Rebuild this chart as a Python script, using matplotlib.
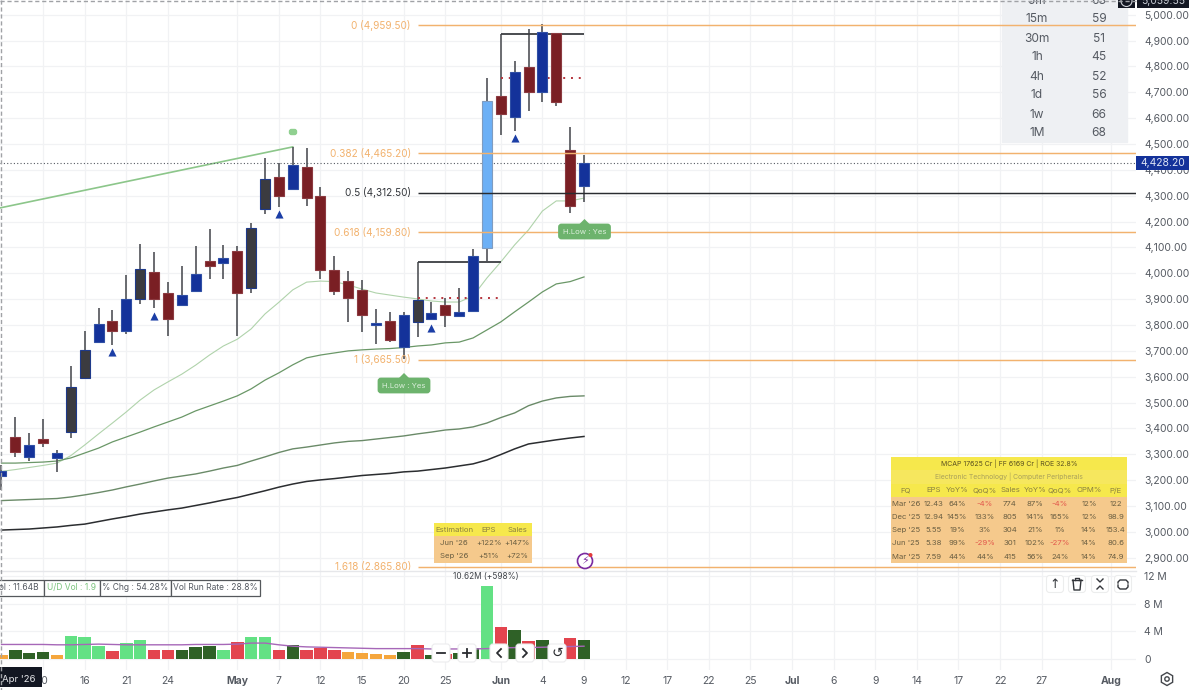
#!/usr/bin/env python3
"""Daily candlestick chart with fib levels, moving averages and volume pane."""

import matplotlib
matplotlib.use("Agg")
import matplotlib.pyplot as plt
from matplotlib.patches import Circle, FancyBboxPatch, Polygon, Rectangle, RegularPolygon

plt.rcParams["font.family"] = ["Inter", "DejaVu Sans"]

# ohlc per daily bar
opens = [3216, 3368, 3291, 3360, 3284, 3387, 3596, 3734, 3816, 3776, 3901, 4006, 3925, 3877, 3933,
         4049, 4041, 4087, 3943, 4248, 4374, 4326, 4410, 4300, 4014, 3970, 3934, 3802, 3817, 3714,
         3811, 3822, 3878, 3836, 3855, 4097, 4687, 4606, 4797, 4703, 4928, 4477, 4338]
highs = [3259, 3445, 3382, 3437, 3317, 3643, 3777, 3866, 3858, 3994, 4113, 4084, 3968, 4028, 4106,
         4171, 4110, 4107, 4196, 4447, 4426, 4490, 4486, 4335, 4068, 4010, 3974, 3861, 3852, 3849,
         3897, 3888, 3903, 3942, 4093, 4757, 4687, 4821, 4944, 4963, 4928, 4567, 4457]
lows = [3162, 3291, 3275, 3327, 3230, 3362, 3596, 3734, 3723, 3767, 3883, 3866, 3759, 3877, 3929,
        3978, 3979, 3759, 3925, 4229, 4258, 4326, 4262, 3979, 3916, 3813, 3774, 3727, 3733, 3667,
        3755, 3822, 3791, 3830, 3855, 4049, 4535, 4552, 4629, 4664, 4648, 4232, 4275]
closes = [3237, 3308, 3336, 3342, 3306, 3559, 3705, 3804, 3777, 3901, 4017, 3901, 3822, 3916, 3999,
          4028, 4060, 3924, 4174, 4365, 4300, 4418, 4293, 4013, 3930, 3906, 3839, 3806, 3742, 3839,
          3897, 3848, 3839, 3849, 4068, 4668, 4617, 4780, 4703, 4932, 4664, 4262, 4428.2]
candle_kind = ["up", "down", "up", "down", "up", "pivot", "pivot", "up", "down", "up", "pivot", "down",
               "down", "up", "up", "down", "up", "down", "pivot", "pivot", "down", "up", "down", "down",
               "down", "down", "down", "up", "down", "up", "pivot", "up", "down", "up", "up", "surge",
               "down", "up", "down", "up", "down", "down", "up"]

ma_fast = [3234, 3241, 3249, 3257, 3266, 3295, 3336, 3379, 3421, 3464, 3510, 3549, 3580, 3610, 3645,
           3684, 3719, 3745, 3785, 3843, 3888, 3936, 3966, 3970, 3968, 3955, 3939, 3924, 3916, 3908,
           3901, 3893, 3889, 3889, 3912, 3982, 4044, 4110, 4168, 4241, 4280, 4280, 4291]
ma_mid = [3266, 3266, 3268, 3270, 3274, 3286, 3305, 3324, 3348, 3367, 3386, 3406, 3425, 3444, 3468,
          3487, 3506, 3526, 3553, 3587, 3615, 3646, 3673, 3684, 3692, 3700, 3704, 3707, 3709, 3713,
          3719, 3723, 3731, 3734, 3750, 3781, 3812, 3851, 3889, 3928, 3959, 3968, 3986]
ma_slow = [3121, 3123, 3125, 3127, 3129, 3135, 3143, 3152, 3162, 3174, 3185, 3197, 3208, 3216, 3224,
           3235, 3247, 3257, 3274, 3290, 3307, 3321, 3328, 3336, 3344, 3350, 3353, 3359, 3365, 3371,
           3379, 3386, 3394, 3398, 3406, 3421, 3442, 3460, 3488, 3506, 3518, 3524, 3526]
ma_long = [3007, 3009, 3011, 3015, 3019, 3025, 3030, 3040, 3050, 3059, 3069, 3077, 3085, 3092, 3102,
           3112, 3123, 3133, 3146, 3159, 3173, 3185, 3195, 3201, 3206, 3212, 3218, 3222, 3226, 3232,
           3235, 3241, 3247, 3255, 3263, 3278, 3299, 3321, 3340, 3348, 3356, 3363, 3369]

volumes = [0.63, 1.26, 0.87, 1.0, 0.53, 3.3, 3.14, 1.93, 1.11, 2.3, 2.8, 1.26, 1.26, 1.3, 1.74,
           1.88, 1.35, 2.5, 3.14, 3.24, 1.35, 2.03, 1.35, 1.6, 1.35, 1.06, 0.82, 0.77, 0.53, 1.0,
           2.0, 0.62, 0.7, 0.87, 1.6, 10.62, 4.6, 4.2, 2.65, 2.75, 1.5, 3.1, 2.75]
volume_kind = ["low", "dn", "dn", "dn", "low", "up", "up", "up", "red", "up", "up", "red", "red", "dn",
               "dn", "dn", "up", "red", "up", "up", "red", "dn", "red", "red", "red", "low", "low",
               "low", "low", "dn", "red", "dn", "red", "dn", "dn", "up", "red", "dn", "red", "dn",
               "red", "red", "dn"]
volume_ma = [2.1, 2.1, 2.1, 2.1, 2.05, 2.05, 2.1, 2.15, 2.1, 2.05, 2.05, 2.05, 2.05, 2.05, 2.1,
             2.1, 2.1, 2.15, 2.3, 2.3, 2.05, 1.85, 1.75, 1.7, 1.65, 1.6, 1.55, 1.5, 1.5, 1.5,
             1.5, 1.45, 1.45, 1.45, 1.45, 1.5, 1.6, 1.65, 1.65, 1.7, 1.75, 1.8, 1.85]

fib_levels = [("0", 4959.5), ("0.382", 4465.2), ("0.5", 4312.5), ("0.618", 4159.8), ("1", 3665.5), ("1.618", 2865.8)]
trend_bars = [-0.11, 21]
trend_prices = [4253, 4489]
signal_bars = [8, 11, 20, 31, 37]
signal_prices = [3696, 3836, 4230, 3788, 4522]
base_bars = [(30, 36, 3897, 4042, 3905), (36, 42, 4687, 4925, 4757)]  # start, end, from, top, pivot

date_ticks = [3, 6, 9, 12, 17, 20, 23, 26, 29, 32, 36, 39, 42, 45, 48, 51, 54, 57, 60, 63, 66, 69, 72, 75, 80]
date_labels = ["10", "16", "21", "24", "May", "7", "12", "15", "20", "25", "Jun", "4", "9", "12", "17",
               "22", "25", "Jul", "6", "9", "14", "17", "22", "27", "Aug"]
price_ticks = list(range(2900, 5001, 100))
volume_ticks = [0, 4, 8, 12]

rsi_frames = ["5m", "15m", "30m", "1h", "4h", "1d", "1w", "1M"]
rsi_values = [63, 59, 51, 45, 52, 56, 66, 68]

fund_header = ["FQ", "EPS", "YoY%", "QoQ%", "Sales", "YoY%", "QoQ%", "OPM%", "P/E"]
fund_rows = [
    ["Mar '26", "12.43", "64%", "-4%", "774", "87%", "-4%", "12%", "122"],
    ["Dec '25", "12.94", "145%", "133%", "805", "141%", "165%", "12%", "98.9"],
    ["Sep '25", "5.55", "19%", "3%", "304", "21%", "1%", "14%", "153.4"],
    ["Jun '25", "5.38", "99%", "-29%", "301", "102%", "-27%", "14%", "80.6"],
    ["Mar '25", "7.59", "44%", "44%", "415", "56%", "24%", "14%", "74.9"],
]
est_header = ["Estimation", "EPS", "Sales"]
est_rows = [["Jun '26", "+122%", "+147%"], ["Sep '26", "+51%", "+72%"]]

BODY = {"up": "#14329a", "down": "#7a1f24", "pivot": "#3b3b40", "surge": "#6cb0f6"}
EDGE = {"up": "#2f4fa5", "down": "#8c3a40", "pivot": "#1f3a8a", "surge": "#7f9cc0"}
VOL = {"up": "#63e184", "dn": "#2f6127", "red": "#e3444e", "low": "#f5a63c"}
ORANGE = "#f2b26e"
TEXT = "#555a62"
GRID = "#f1f2f4"

fig = plt.figure(figsize=(12, 6.9), dpi=100)
price_ax = fig.add_axes([0, 120 / 690, 1136 / 1200, 570 / 690])
vol_ax = fig.add_axes([0, 20 / 690, 1136 / 1200, 100 / 690], sharex=price_ax)
ui = fig.add_axes([0, 0, 1, 1], zorder=10)
ui.set_xlim(0, 1200)
ui.set_ylim(690, 0)
ui.axis("off")
ui.patch.set_alpha(0)

bars = list(range(len(opens)))
xmin, xmax = -0.108, 81.8

# candles
for i in bars:
    top, bottom = max(opens[i], closes[i]), min(opens[i], closes[i])
    kind = candle_kind[i]
    price_ax.vlines(i, lows[i], highs[i], color="#505257", lw=1.2, zorder=3)
    price_ax.bar(i, top - bottom, bottom=bottom, width=0.72, color=BODY[kind], edgecolor=EDGE[kind], lw=0.8, zorder=4)

price_ax.plot(bars, ma_fast, color="#b0d3ab", lw=0.8, zorder=2)
price_ax.plot(bars, ma_mid, color="#6a9767", lw=0.9, zorder=2)
price_ax.plot(bars, ma_slow, color="#6a8a68", lw=1.0, zorder=2)
price_ax.plot(bars, ma_long, color="#2b2d30", lw=1.1, zorder=2)
price_ax.plot(trend_bars, trend_prices, color="#8cc68a", lw=1.2, zorder=2)
price_ax.scatter(signal_bars, signal_prices, marker="^", s=34, color="#1b3ea6", zorder=5, lw=0)

price_ax.axhline(closes[-1], color="#555a62", lw=0.8, ls=(0, (1, 2)), zorder=2)

# fib levels
for name, level in fib_levels:
    col = "#2a2c30" if name == "0.5" else ORANGE
    price_ax.hlines(level, 30, xmax, color=col, lw=1.05, zorder=5)
    lab = f"{name} ({level:,.2f})"
    price_ax.text(29.52, level, lab, ha="right", va="center", fontsize=7.2, color="#33363b" if name == "0.5" else ORANGE, zorder=6)

# base brackets
for start, end, low, top, pivot in base_bars:
    price_ax.vlines(start, low, top, color="#6a6c70", lw=1.4, zorder=3)
    price_ax.hlines(top, start, end, color="#3c3e42", lw=1.3, zorder=3)
    price_ax.hlines(pivot, start, end, color="#b5343c", lw=1.4, ls=(0, (1, 3)), zorder=3)

price_ax.set_xlim(xmin, xmax)
price_ax.set_ylim(2852.5, 5057.2)
price_ax.set_yticks(price_ticks)
price_ax.set_yticklabels([f"{p:,.2f}" for p in price_ticks])

# volume
vol_ax.bar(bars, volumes, width=0.9, color=[VOL[k] for k in volume_kind], zorder=3)
vol_ax.plot(bars, volume_ma, color="#a667b8", lw=1.0, zorder=4)
vol_ax.set_ylim(-1.59, 12.86)
vol_ax.set_yticks(volume_ticks)
vol_ax.set_yticklabels(["0", "4 M", "8 M", "12 M"])
vol_ax.set_xticks(date_ticks)
vol_ax.set_xticklabels(date_labels)
for lab in vol_ax.get_xticklabels():
    if lab.get_text() in ("May", "Jun", "Jul", "Aug"):
        lab.set_fontweight("bold")
        lab.set_color("#3a3d42")

for ax in (price_ax, vol_ax):
    ax.yaxis.tick_right()
    ax.tick_params(length=0, labelsize=7.5, labelcolor=TEXT, pad=6)
    ax.grid(True, color=GRID, lw=0.9)
    ax.set_axisbelow(True)
    for sp in ax.spines.values():
        sp.set_visible(False)
vol_ax.tick_params(axis="x", pad=4)
price_ax.tick_params(axis="x", labelbottom=False)
fig.add_artist(plt.Line2D([0, 1136 / 1200], [119 / 690, 119 / 690], color="#e6e7ea", lw=1))

# crosshair remains along the top and left edge
ui.plot([1, 1], [0, 690], color="#a0a2a6", lw=1, ls=(0, (3, 2)))
ui.plot([0, 1136], [0.5, 0.5], color="#a0a2a6", lw=1, ls=(0, (3, 2)))

# rsi box, under the fib lines
tr = ui.transData
price_ax.add_patch(Rectangle((1002, 0), 125, 142, color="#eef0f3", transform=tr, zorder=1, clip_on=False))
for n, (frame, val) in enumerate(zip(rsi_frames, rsi_values)):
    price_ax.text(1037, 0.5 + 19 * n, frame, ha="center", va="center", fontsize=8.6, color=TEXT, transform=tr, zorder=6)
    price_ax.text(1099, 0.5 + 19 * n, str(val), ha="center", va="center", fontsize=8.6, color=TEXT, transform=tr, zorder=6)


def grid_table(left, top, width, row_h, centers, rows, header_rows):
    """rows under the header are orange, the header rows yellow"""
    for r, row in enumerate(rows):
        y = top + r * row_h
        col = "#f6e84c" if r < header_rows else "#f5c98c"
        ui.add_patch(Rectangle((left, y), width, row_h, color=col, lw=0))
        for cx, val in zip(centers, row):
            tc = "#e2574c" if val.startswith("-") else ("#8a8040" if r < header_rows else "#6b5f42")
            ui.text(cx, y + row_h / 2, val, ha="center", va="center", fontsize=5.6, color=tc)


cols = [906, 934, 957, 985, 1010, 1035, 1060, 1089, 1116]
ui.add_patch(Rectangle((890.5, 457), 236.5, 13.3, color="#f6e84c", lw=0))
ui.text(1009, 463.6, "MCAP 17625 Cr | FF 6169 Cr | ROE 32.8%", ha="center", va="center", fontsize=5.0, color="#5c5220")
ui.add_patch(Rectangle((890.5, 470.3), 236.5, 13.3, color="#f6e75e", lw=0))
ui.text(1009, 477, "Electronic Technology | Computer Peripherals", ha="center", va="center", fontsize=4.9, color="#a9a05a")
grid_table(890.5, 483.6, 236.5, 13.3, cols, [fund_header] + fund_rows, 1)
grid_table(434, 523, 98, 13.3, [454, 489, 517], [est_header] + est_rows, 1)

# signal labels
for cx, top in [(404, 378), (584.5, 224)]:
    ui.add_patch(FancyBboxPatch((cx - 25, top + 1), 50, 13, boxstyle="round,pad=0,rounding_size=2", mutation_aspect=1,
                                fc="#6db36d", ec="#6db36d", lw=2))
    ui.add_patch(Polygon([(cx - 5, top), (cx + 5, top), (cx, top - 5)], color="#6db36d", lw=0))
    ui.text(cx, top + 7.5, "H.Low : Yes", ha="center", va="center", fontsize=5.6, color="#dcefdc")
ui.add_patch(FancyBboxPatch((289.5, 129.5), 7, 5, boxstyle="round,pad=0,rounding_size=2", fc="#90d090", ec="#90d090", lw=1))

# price badges
ui.add_patch(Rectangle((1136, 156), 53, 14, color="#14329a", lw=0))
ui.text(1162.5, 163, "4,428.20", ha="center", va="center", fontsize=7.5, color="#dfe5f5")
ui.add_patch(Rectangle((1137, 0), 52, 8, color="#131722", lw=0))
ui.text(1163, 0.5, "5,059.55", ha="center", va="center", fontsize=7.5, color="#c8ccd4", clip_on=True)
ui.add_patch(Rectangle((1118, 0), 17, 8, color="#131722", lw=0))
ui.add_patch(Circle((1126.5, 1), 5.5, fc="none", ec="#d0d3d8", lw=0.8))

# stats strip
stats = [(-12, 44, "Vol : 11.64B", "#555a62"), (44, 99.5, "U/D Vol : 1.9", "#7cc47f"),
         (99.5, 170.5, "% Chg : 54.28%", "#555a62"), (170.5, 260, "Vol Run Rate : 28.8%", "#555a62")]
for x0, x1, txt, col in stats:
    ui.add_patch(Rectangle((x0, 579.5), x1 - x0, 16, fc="white", ec="#55585c", lw=0.9))
    ui.text((x0 + x1) / 2, 587.5, txt, ha="center", va="center", fontsize=6.1, color=col)
ui.text(486, 577, "10.62M (+598%)", ha="center", va="center", fontsize=5.9, color="#40444a")

# flash icon
ui.add_patch(Circle((585, 561), 7.5, fc="white", ec="#7a2aa0", lw=1.2))
ui.text(585, 561.5, "\u26a1", ha="center", va="center", fontsize=8, color="#7a2aa0", family="DejaVu Sans")
ui.add_patch(Circle((590.5, 555), 2, color="#e23b3b", lw=0))


def button(cx, cy, size, edge):
    ui.add_patch(FancyBboxPatch((cx - size / 2, cy - size / 2), size, size, boxstyle="round,pad=0,rounding_size=3",
                                fc="white", ec=edge, lw=0.8))


for cx in [441, 467, 499, 525, 557]:
    button(cx, 653, 18, "#ececee")
ui.plot([437, 445], [653, 653], color="#2a2c30", lw=1.3)
ui.plot([463, 471], [653, 653], color="#2a2c30", lw=1.3)
ui.plot([467, 467], [649, 657], color="#2a2c30", lw=1.3)
ui.plot([501, 497, 501], [649, 653, 657], color="#2a2c30", lw=1.3)
ui.plot([523, 527, 523], [649, 653, 657], color="#2a2c30", lw=1.3)
ui.text(557, 653, "\u21ba", ha="center", va="center", fontsize=10, color="#2a2c30", family="DejaVu Sans")

for cx in [1055, 1077, 1100, 1123]:
    button(cx, 584, 17, "#eceded")
ui.text(1055, 584, "\u2191", ha="center", va="center", fontsize=9, color="#33363b", family="DejaVu Sans")
ui.plot([1073, 1074, 1080, 1081], [580, 590, 590, 580], color="#33363b", lw=1)
ui.plot([1072, 1082], [580, 580], color="#33363b", lw=1)
ui.plot([1075, 1075, 1079, 1079], [580, 578, 578, 580], color="#33363b", lw=1)
ui.plot([1097, 1100, 1103], [579, 582, 579], color="#33363b", lw=1)
ui.plot([1097, 1100, 1103], [589, 586, 589], color="#33363b", lw=1)
ui.plot([1118, 1118, 1120, 1126, 1128, 1128], [583, 582, 580, 580, 582, 583], color="#33363b", lw=1)
ui.plot([1118, 1118, 1120, 1126, 1128, 1128], [585, 587, 589, 589, 587, 585], color="#33363b", lw=1)

# bottom left date badge and settings
ui.add_patch(Rectangle((0, 667), 42, 20, color="#131722", lw=0))
ui.text(2, 679, "Apr '26", ha="left", va="center", fontsize=6.9, color="#e8e9ec")
ui.add_patch(RegularPolygon((1167, 679), 6, radius=6.5, fc="white", ec="#44474c", lw=1))
ui.add_patch(Circle((1167, 679), 2.2, fc="white", ec="#44474c", lw=1))

fig.savefig("out.png", dpi=100)
